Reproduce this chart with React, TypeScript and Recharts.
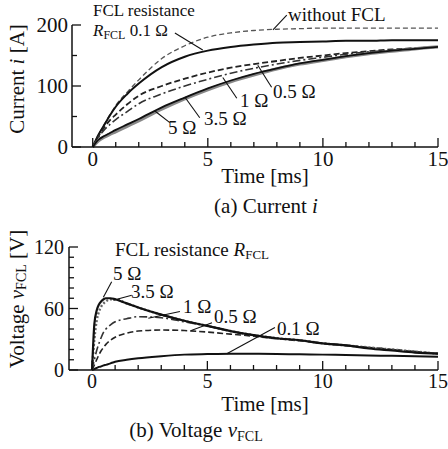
import React from 'react'
import { LineChart, Line, XAxis, YAxis, ReferenceLine } from 'recharts'

// (a) current i [A] vs time [ms]
const timeA = [0, 0.25, 0.5, 0.75, 1, 1.5, 2, 3, 4, 5, 6, 7, 8, 9, 10, 11, 12, 13, 14, 15]
const iWithout = [0, 20, 37, 53, 68, 90, 110, 145, 166, 180, 187, 191, 193, 194, 195, 195, 195, 195, 195, 195]
const i01 = [0, 20, 36, 52, 66, 87, 104, 131, 148, 158, 164, 168, 171, 172, 173, 174, 174, 175, 175, 175]
const i05 = [0, 18, 32, 44, 53, 70, 84, 100, 112, 122, 130, 136, 141, 146, 150, 154, 157, 160, 162, 164]
const i1 = [0, 16, 28, 37, 45, 58, 71, 87, 100, 111, 121, 129, 136, 142, 147, 152, 156, 159, 162, 164]
const i35 = [0, 12, 18, 23, 28, 37, 46, 65, 81, 96, 109, 120, 129, 137, 143, 149, 154, 158, 161, 164]
const i5 = [0, 10, 16, 21, 25, 34, 43, 62, 79, 94, 107, 118, 128, 136, 142, 148, 153, 157, 161, 164]

// (b) voltage vFCL [V] vs time [ms]
const timeB = [0, 0.1, 0.2, 0.3, 0.4, 0.5, 0.6, 0.8, 1, 1.5, 2, 3, 4, 5, 6, 7, 8, 9, 10, 11, 12, 13, 14, 15]
const v5 = [0, 45, 58, 64, 67, 69, 70, 70, 69, 65, 61, 54, 48, 43, 38, 34, 31, 29, 26, 24, 21, 19, 17, 16]
const v35 = [0, 30, 48, 57, 62, 65, 67, 69, 69, 65, 61, 54, 48, 43, 38, 34, 31, 29, 26, 24, 22, 20, 18, 16]
const v1 = [0, 10, 19, 26, 32, 37, 40, 44, 47, 50, 52, 51, 47, 43, 38, 34, 31, 29, 26, 24, 22, 20, 18, 16]
const v05 = [0, 5, 10, 15, 19, 22, 25, 29, 32, 36, 38, 39, 38.5, 37, 35, 33, 30.5, 28.5, 26, 24, 22, 20, 18, 16]
const v01 = [0, 1, 2, 3, 3.5, 4.5, 5, 6.5, 8, 10, 11.5, 13.5, 15, 15.5, 15.8, 15.8, 15.6, 15.3, 15, 14.6, 14.2, 13.8, 13.4, 13]

const xTicks = Array.from({ length: 16 }, (_, i) => i)
const yTicksA = [0, 50, 100, 150, 200]
const yTicksB = [0, 10, 20, 30, 40, 50, 60, 70, 80, 90, 100, 110, 120]

const dataA = timeA.map((t, k) => ({ t, without: iWithout[k], r01: i01[k], r05: i05[k], r1: i1[k], r35: i35[k], r5: i5[k] }))
const dataB = timeB.map((t, k) => ({ t, r5: v5[k], r35: v35[k], r1: v1[k], r05: v05[k], r01: v01[k] }))

const FONT = 'Liberation Serif, Times New Roman, serif'

const makeXTick = (fontSize: number, dyText: number) => (props: any) => {
  const { x, y, payload } = props
  const major = payload.value % 5 === 0
  return (
    <g>
      <line x1={x} y1={y} x2={x} y2={y - (major ? 9 : 5)} stroke="#111" strokeWidth={1.3} />
      {major && (
        <text x={x} y={y + dyText} textAnchor="middle" style={{ fontSize, fontFamily: FONT }} fill="#111">
          {payload.value}
        </text>
      )}
    </g>
  )
}

const makeYTick = (majors: number[], fontSize: number, gap: number) => (props: any) => {
  const { x, y, payload } = props
  const major = majors.includes(payload.value)
  return (
    <g>
      <line x1={x} y1={y} x2={x + (major ? 9 : 5)} y2={y} stroke="#111" strokeWidth={1.3} />
      {major && (
        <text x={x - gap} y={y} dy="0.35em" textAnchor="end" style={{ fontSize, fontFamily: FONT }} fill="#111">
          {payload.value}
        </text>
      )}
    </g>
  )
}

const leader = { stroke: '#111', strokeWidth: 1.1, ifOverflow: 'visible' as const }

export default function App() {
  return (
    <div style={{ position: 'absolute', left: 0, top: 0, width: 448, height: 449, background: '#fff', fontFamily: FONT }}>
      <div style={{ position: 'absolute', left: 0, top: 0 }}>
        <LineChart width={448} height={220} data={dataA} margin={{ top: 25, right: 10, bottom: 43, left: 12 }}>
          <XAxis
            type="number"
            dataKey="t"
            domain={[-0.9, 15]}
            ticks={xTicks}
            interval={0}
            height={30}
            tickSize={0}
            tickMargin={0}
            tickLine={false}
            axisLine={{ stroke: '#111', strokeWidth: 1.5 }}
            tick={makeXTick(21, 19)}
          />
          <YAxis
            type="number"
            domain={[0, 200]}
            ticks={yTicksA}
            interval={0}
            width={60}
            tickSize={0}
            tickMargin={0}
            tickLine={false}
            axisLine={{ stroke: '#111', strokeWidth: 1.5 }}
            tick={makeYTick([0, 100, 200], 21, 4)}
          />
          <Line dataKey="without" type="monotone" stroke="#555" strokeWidth={1.3} strokeDasharray="5 3" dot={false} isAnimationActive={false} />
          <Line dataKey="r01" type="monotone" stroke="#111" strokeWidth={2} dot={false} isAnimationActive={false} />
          <Line dataKey="r05" type="monotone" stroke="#222" strokeWidth={1.8} strokeDasharray="6 3" dot={false} isAnimationActive={false} />
          <Line dataKey="r1" type="monotone" stroke="#333" strokeWidth={1.6} strokeDasharray="8 3 2 3" dot={false} isAnimationActive={false} />
          <Line dataKey="r5" type="monotone" stroke="#888" strokeWidth={3.2} dot={false} isAnimationActive={false} />
          <Line dataKey="r35" type="monotone" stroke="#111" strokeWidth={1.8} dot={false} isAnimationActive={false} />
          <ReferenceLine segment={[{ x: 7.83, y: 192 }, { x: 8.43, y: 216 }]} {...leader} />
          <ReferenceLine segment={[{ x: 3.57, y: 187 }, { x: 4.78, y: 159 }]} {...leader} />
          <ReferenceLine segment={[{ x: 7.77, y: 98 }, { x: 7.17, y: 134 }]} {...leader} />
          <ReferenceLine segment={[{ x: 6.26, y: 80 }, { x: 5.65, y: 114 }]} {...leader} />
          <ReferenceLine segment={[{ x: 4.65, y: 48 }, { x: 4.0, y: 82 }]} {...leader} />
          <ReferenceLine segment={[{ x: 3.35, y: 40 }, { x: 2.7, y: 59 }]} {...leader} />
        </LineChart>
      </div>
      <div style={{ position: 'absolute', left: 0, top: 220 }}>
        <LineChart width={448} height={229} data={dataB} margin={{ top: 27, right: 10, bottom: 49, left: 9 }}>
          <XAxis
            type="number"
            dataKey="t"
            domain={[-1, 15]}
            ticks={xTicks}
            interval={0}
            height={30}
            tickSize={0}
            tickMargin={0}
            tickLine={false}
            axisLine={{ stroke: '#111', strokeWidth: 1.5 }}
            tick={makeXTick(20, 18)}
          />
          <YAxis
            type="number"
            domain={[0, 120]}
            ticks={yTicksB}
            interval={0}
            width={60}
            tickSize={0}
            tickMargin={0}
            tickLine={false}
            axisLine={{ stroke: '#111', strokeWidth: 1.5 }}
            tick={makeYTick([0, 60, 120], 20, 5)}
          />
          <Line dataKey="r01" type="monotone" stroke="#111" strokeWidth={2} dot={false} isAnimationActive={false} />
          <Line dataKey="r05" type="monotone" stroke="#222" strokeWidth={1.6} strokeDasharray="6 3" dot={false} isAnimationActive={false} />
          <Line dataKey="r1" type="monotone" stroke="#333" strokeWidth={1.6} strokeDasharray="8 3 2 3" dot={false} isAnimationActive={false} />
          <Line dataKey="r35" type="monotone" stroke="#666" strokeWidth={2.4} strokeDasharray="2 2" dot={false} isAnimationActive={false} />
          <Line dataKey="r5" type="monotone" stroke="#111" strokeWidth={2.2} dot={false} isAnimationActive={false} />
          <ReferenceLine segment={[{ x: 0.85, y: 86 }, { x: 0.49, y: 71 }]} {...leader} />
          <ReferenceLine segment={[{ x: 1.72, y: 73 }, { x: 0.92, y: 68 }]} {...leader} />
          <ReferenceLine segment={[{ x: 3.81, y: 57 }, { x: 2.44, y: 50.5 }]} {...leader} />
          <ReferenceLine segment={[{ x: 5.2, y: 46 }, { x: 4.3, y: 38.6 }]} {...leader} />
          <ReferenceLine segment={[{ x: 7.93, y: 41.5 }, { x: 5.84, y: 15.8 }]} {...leader} />
        </LineChart>
      </div>
      <svg width={448} height={449} style={{ position: 'absolute', left: 0, top: 0, pointerEvents: 'none', fontFamily: FONT }} fill="#111">
        {/* (a) annotations */}
        <text x={93} y={16} fontSize={17}>FCL resistance</text>
        <text x={93} y={36} fontSize={17}>
          <tspan fontStyle="italic">R</tspan>
          <tspan fontSize={12} dy={3}>FCL</tspan>
          <tspan dy={-3}> 0.1 Ω</tspan>
        </text>
        <text x={288} y={21} fontSize={19}>without FCL</text>
        <text x={273} y={98} fontSize={19}>0.5 Ω</text>
        <text x={240} y={107} fontSize={19}>1 Ω</text>
        <text x={204} y={125} fontSize={19}>3.5 Ω</text>
        <text x={168} y={134} fontSize={19}>5 Ω</text>
        <text x={17} y={79} fontSize={21} textAnchor="middle" dominantBaseline="central" transform="rotate(-90 17 79)">
          Current <tspan fontStyle="italic">i</tspan> [A]
        </text>
        <text x={265} y={183} fontSize={21} textAnchor="middle">Time [ms]</text>
        <text x={266} y={213} fontSize={21} textAnchor="middle">
          (a) Current <tspan fontStyle="italic">i</tspan>
        </text>

        {/* (b) annotations */}
        <text x={115} y={256} fontSize={19}>
          FCL resistance <tspan fontStyle="italic">R</tspan>
          <tspan fontSize={13} dy={3}>FCL</tspan>
        </text>
        <text x={113} y={280} fontSize={19}>5 Ω</text>
        <text x={131} y={298} fontSize={19}>3.5 Ω</text>
        <text x={183} y={313} fontSize={19}>1 Ω</text>
        <text x={214} y={323} fontSize={19}>0.5 Ω</text>
        <text x={277} y={335} fontSize={19}>0.1 Ω</text>
        <text x={17} y={299} fontSize={21} textAnchor="middle" dominantBaseline="central" transform="rotate(-90 17 299)">
          Voltage <tspan fontStyle="italic">v</tspan>
          <tspan fontSize={14} dy={4}>FCL</tspan>
          <tspan dy={-4}> [V]</tspan>
        </text>
        <text x={265} y={411} fontSize={21} textAnchor="middle">Time [ms]</text>
        <text x={196} y={437} fontSize={21} textAnchor="middle">
          (b) Voltage <tspan fontStyle="italic">v</tspan>
          <tspan fontSize={14} dy={4}>FCL</tspan>
        </text>
      </svg>
    </div>
  )
}
